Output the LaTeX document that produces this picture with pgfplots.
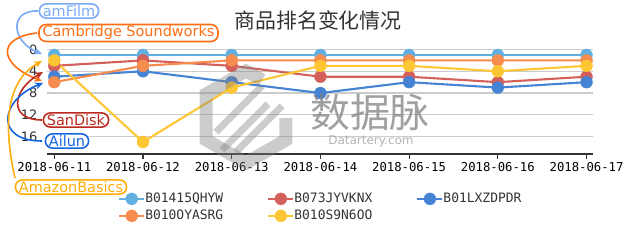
\documentclass[border=0pt]{standalone}
\usepackage{fontspec}
\setmainfont{DejaVu Sans}
\newfontfamily\monof{DejaVu Sans Mono}
\newfontfamily\cjk{Noto Sans CJK SC}
\usepackage{pgfplots}
\pgfplotsset{compat=1.18}
\usetikzlibrary{arrows.meta}
\definecolor{cA}{HTML}{62B0E2}
\definecolor{cB}{HTML}{D3605A}
\definecolor{cC}{HTML}{4683D4}
\definecolor{cD}{HTML}{F68C4E}
\definecolor{cE}{HTML}{FDC632}
\definecolor{aA}{HTML}{7AABF7}
\definecolor{aB}{HTML}{FF6E14}
\definecolor{aC}{HTML}{BA2A1E}
\definecolor{aD}{HTML}{1565E0}
\definecolor{aE}{HTML}{FFAD0A}
\definecolor{gridc}{HTML}{CCCCCC}
\definecolor{txt}{HTML}{333333}
\begin{document}
\begin{tikzpicture}
\begin{axis}[
  at={(0,0)}, anchor=south west,
  scale only axis, width=546bp, height=104.5bp,
  xmin=-0.082, xmax=6.073, ymin=0, ymax=19.2, y dir=reverse,
  axis line style={draw=none},
  xtick={0,...,6},
  xticklabels={2018-06-11,2018-06-12,2018-06-13,2018-06-14,2018-06-15,2018-06-16,2018-06-17},
  xtick pos=lower, xticklabel pos=lower,
  tick align=outside, major tick length=5bp,
  xtick style={draw=txt, line width=1.2bp},
  xticklabel style={font=\monof\fontsize{12.3}{14}\selectfont, text=black},
  ytick={0,4,8,12,16},
  ytick style={draw=none},
  yticklabel style={font=\fontsize{13}{15}\selectfont, text=txt, xshift=-1bp},
  /pgf/number format/assume math mode=true,
  ymajorgrids, grid style={gridc, line width=1.3bp},
  clip=false,
  legend columns=3,
  legend style={at={(0.13,-0.37)}, anchor=north west, draw=none, fill=none,
    inner sep=0bp,
    nodes={inner sep=0bp, anchor=west},
    font=\monof\fontsize{13}{15}\selectfont, text=txt,
    /tikz/every even column/.append style={column sep=10bp},
    row sep=5bp},
  legend image code/.code={\draw[mark repeat=2, mark phase=2, #1] plot coordinates {(0bp,0bp) (12.5bp,0bp) (25bp,0bp)};},
  every axis plot/.append style={line width=2.1bp, mark=*, mark size=6bp},
]
\addplot[cA, mark options={fill=cA, draw=cA, line width=0.3bp}] coordinates {(0,1) (1,1) (2,1) (3,1) (4,1) (5,1) (6,1)};
\addlegendentry{\makebox[112bp][l]{B01415QHYW}}
\addplot[cB, mark options={fill=cB, draw=cB, line width=0.3bp}] coordinates {(0,3) (1,2) (2,3) (3,5) (4,5) (5,6) (6,5)};
\addlegendentry{\makebox[112bp][l]{B073JYVKNX}}
\addplot[cC, mark options={fill=cC, draw=cC, line width=0.3bp}] coordinates {(0,5) (1,4) (2,6) (3,8) (4,6) (5,7) (6,6)};
\addlegendentry{\makebox[112bp][l]{B01LXZDPDR}}
\addplot[cD, mark options={fill=cD, draw=cD, line width=0.3bp}] coordinates {(0,6) (1,3) (2,2) (3,2) (4,2) (5,2) (6,2)};
\addlegendentry{\makebox[112bp][l]{B010OYASRG}}
\addplot[cE, mark options={fill=cE, draw=cE, line width=0.3bp}] coordinates {(0,2) (1,17) (2,7) (3,3) (4,3) (5,4) (6,3)};
\addlegendentry{\makebox[112bp][l]{B010S9N6OO}}
\draw[txt, line width=1.3bp] (axis cs:-0.082,19.2) -- (axis cs:6.073,19.2);
\end{axis}
\begin{scope}[shift={(-47bp,154bp)}, x=1bp, y=-1bp]
  \path[use as bounding box] (0,0) rectangle (640,243);
  % watermark
  \begin{scope}[opacity=0.4, gray]
    \draw[line width=13bp, line join=miter] (262,80) -- (246,71) -- (206.2,94) -- (206.2,140) -- (246,163) -- (285.8,140) -- (285.8,118);
    \draw[line width=7bp] (222,150) -- (268,104);
    \draw[line width=7bp] (236,152) -- (282,106);
    \draw[line width=7bp] (216,132) -- (262,86);
  \end{scope}
  \node[text=gray, opacity=0.75, font=\cjk\fontsize{40}{44}\selectfont] at (370,112) {数据脉};
  \node[text=gray, opacity=0.6, font=\fontsize{12}{14}\selectfont] at (371,141) {Datartery.com};
  % title
  \node[text=txt, font=\cjk\fontsize{21}{24}\selectfont] at (318,20) {商品排名变化情况};
  % annotations
  \tikzset{ann/.style={draw=#1, text=#1, fill=white, rounded corners=7bp, line width=1.6bp, inner xsep=3.5bp, inner ysep=1.5bp, font=\fontsize{14.5}{16}\selectfont},
           arr/.style={draw=#1, line width=1.6bp, -{Stealth[length=8bp,width=7bp]}, fill=none}}
  \draw[arr=aA] (38,11) .. controls (8,10) and (12,42) .. (42,54);
  \draw[arr=aB] (37,33) .. controls (-5,38) and (0,65) .. (42,81);
  \draw[arr=aC] (42,120) .. controls (8,120) and (12,90) .. (43,72);
  \draw[arr=aD] (42,141) .. controls (-6,141) and (0,100) .. (43,83);
  \draw[arr=aE] (15,178) .. controls (2,120) and (8,80) .. (42,61);
  \node[ann=aA] at (69,11) {amFilm};
  \node[ann=aB] at (128.5,33) {Cambridge Soundworks};
  \node[ann=aC] at (76,120) {SanDisk};
  \node[ann=aD] at (67,141) {Ailun};
  \node[ann=aE] at (71,187) {AmazonBasics};
\end{scope}
\end{tikzpicture}
\end{document}
